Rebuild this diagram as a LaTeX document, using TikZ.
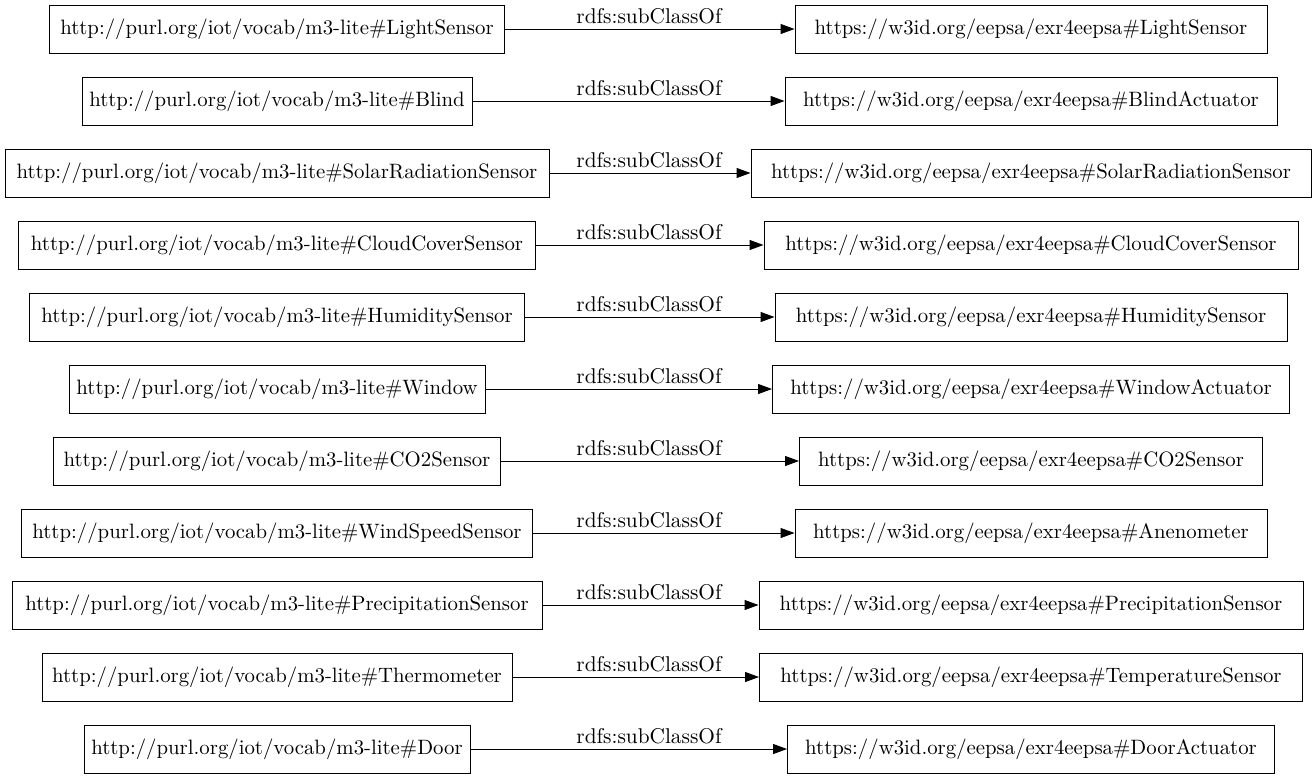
\documentclass[tikz,border=0pt]{standalone}
\usepackage{fontspec}
\setmainfont{lmroman10-regular.otf}
\usetikzlibrary{arrows.meta}
\begin{document}
\begin{tikzpicture}[x=0.75pt,y=-0.75pt,
  box/.style={draw, line width=0.7pt, minimum height=36pt, inner sep=0pt, font=\fontsize{15.6}{18}\selectfont},
  bw/.style={minimum width=#1*0.75pt},
  rel/.style={-{Triangle[length=10.5pt,width=7.5pt]}, line width=0.75pt},
  lab/.style={anchor=base, inner sep=0pt, font=\fontsize{16}{18}\selectfont}]
\useasboundingbox (0,0) rectangle (1316,779);

\node[box,bw=455] (l1)  at (277,29)  {http://purl.org/iot/vocab/m3-lite\#LightSensor};
\node[box,bw=472] (r1)  at (1031,29) {https://w3id.org/eepsa/exr4eepsa\#LightSensor};
\node[box,bw=390] (l2)  at (277,101) {http://purl.org/iot/vocab/m3-lite\#Blind};
\node[box,bw=492] (r2)  at (1031,101) {https://w3id.org/eepsa/exr4eepsa\#BlindActuator};
\node[box,bw=544] (l3)  at (277,173) {http://purl.org/iot/vocab/m3-lite\#SolarRadiationSensor};
\node[box,bw=560] (r3)  at (1031,173) {https://w3id.org/eepsa/exr4eepsa\#SolarRadiationSensor};
\node[box,bw=517] (l4)  at (277,245) {http://purl.org/iot/vocab/m3-lite\#CloudCoverSensor};
\node[box,bw=534] (r4)  at (1031,245) {https://w3id.org/eepsa/exr4eepsa\#CloudCoverSensor};
\node[box,bw=495] (l5)  at (277,317) {http://purl.org/iot/vocab/m3-lite\#HumiditySensor};
\node[box,bw=512] (r5)  at (1031,317) {https://w3id.org/eepsa/exr4eepsa\#HumiditySensor};
\node[box,bw=416] (l6)  at (277,389) {http://purl.org/iot/vocab/m3-lite\#Window};
\node[box,bw=517] (r6)  at (1031,389) {https://w3id.org/eepsa/exr4eepsa\#WindowActuator};
\node[box,bw=447] (l7)  at (277,461) {http://purl.org/iot/vocab/m3-lite\#CO2Sensor};
\node[box,bw=463] (r7)  at (1031,461) {https://w3id.org/eepsa/exr4eepsa\#CO2Sensor};
\node[box,bw=511] (l8)  at (277,533) {http://purl.org/iot/vocab/m3-lite\#WindSpeedSensor};
\node[box,bw=472] (r8)  at (1031,533) {https://w3id.org/eepsa/exr4eepsa\#Anenometer};
\node[box,bw=530] (l9)  at (277,605) {http://purl.org/iot/vocab/m3-lite\#PrecipitationSensor};
\node[box,bw=544] (r9)  at (1031,605) {https://w3id.org/eepsa/exr4eepsa\#PrecipitationSensor};
\node[box,bw=470] (l10) at (277,677) {http://purl.org/iot/vocab/m3-lite\#Thermometer};
\node[box,bw=543] (r10) at (1031,677) {https://w3id.org/eepsa/exr4eepsa\#TemperatureSensor};
\node[box,bw=386] (l11) at (277,749) {http://purl.org/iot/vocab/m3-lite\#Door};
\node[box,bw=487] (r11) at (1031,749) {https://w3id.org/eepsa/exr4eepsa\#DoorActuator};

\foreach \i in {1,...,11}{
  \draw[rel] (l\i.east) -- (r\i.west);
  \node[lab] (e\i) at (649,{29+72*(\i-1)-6}) {rdfs:subClassOf};
}
\end{tikzpicture}
\end{document}
